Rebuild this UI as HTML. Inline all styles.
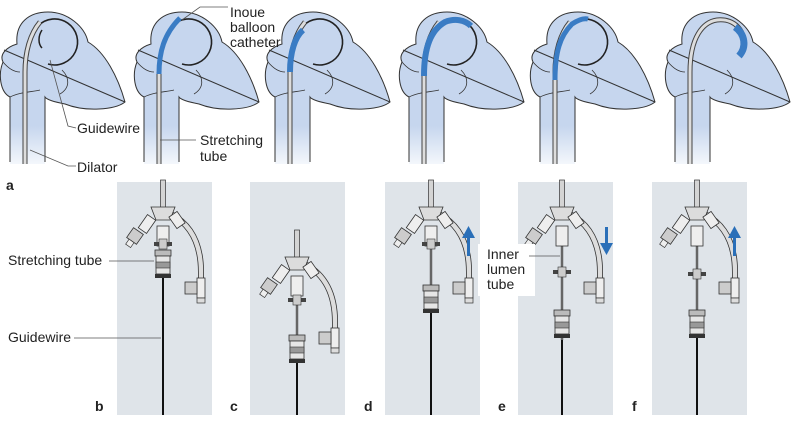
<!DOCTYPE html>
<html><head><meta charset="utf-8"><style>
html,body{margin:0;padding:0;background:#fff}
svg{display:block}
text{font-family:"Liberation Sans",sans-serif;font-size:14px;fill:#222}
</style></head><body>
<svg width="800" height="428" viewBox="0 0 800 428">
<defs>
<linearGradient id="fade" x1="0" y1="0" x2="0" y2="1">
 <stop offset="0.75" stop-color="#c6d6ee"/><stop offset="1" stop-color="#c6d6ee" stop-opacity="0.2"/>
</linearGradient>
<g id="heart">
 <path d="M20,172 L20,105 C10,100 8,82 13,70 C9,62 17,55 27,52 C25,30 40,20 58,20 C78,20 95,35 98,50 C115,60 128,85 135,110 C125,118 95,120 75,112 C65,110 57,108 55,105 L55,172 Z" fill="url(#fade)"/>
 <path d="M20,170 L20,105 C10,100 8,82 13,70 C9,62 17,55 27,52 C25,30 40,20 58,20 C78,20 95,35 98,50 C115,60 128,85 135,110 C125,118 95,120 75,112 C65,110 57,108 55,105 L55,170" fill="none" stroke="#333" stroke-width="1"/>
 <path d="M14,58 L135,110" fill="none" stroke="#333" stroke-width="1"/>
 <path d="M72,78 C80,86 80,96 70,102" fill="none" stroke="#333" stroke-width="0.8"/>
 <path d="M13,70 C18,76 24,80 30,80" fill="none" stroke="#333" stroke-width="0.8"/>
 <path d="M20,105 C30,100 42,100 50,98" fill="none" stroke="#333" stroke-width="0.8"/>
</g>
<path id="arc" d="M48,34 A23,23 0 1 1 58,72" fill="none" stroke="#222" stroke-width="1.6"/>
<g id="tube">
 <path d="M35,172 L35,80 C35,60 40,42 50,30" fill="none" stroke="#444" stroke-width="5"/>
 <path d="M35,172 L35,80 C35,60 40,42 50,30" fill="none" stroke="#ddd" stroke-width="3"/>
</g>
<g id="hub">
 <rect x="-2.5" y="-32" width="5" height="28" fill="#d4d4d4" stroke="#333" stroke-width="0.7"/>
 <path d="M8,2 Q38,18 38,60 L38,68" fill="none" stroke="#333" stroke-width="6"/>
 <path d="M8,2 Q38,18 38,60 L38,68" fill="none" stroke="#ddd" stroke-width="4.4"/>
 <path d="M-12,-5 L12,-5 L7,8 L-7,8 Z" fill="#dcdcdc" stroke="#333" stroke-width="0.8"/>
 <g transform="translate(-16,12) rotate(35)"><rect x="-5" y="-8" width="10" height="16" fill="#eee" stroke="#333" stroke-width="0.8"/></g>
 <g transform="translate(-28,24) rotate(35)"><rect x="-6" y="-6" width="12" height="12" fill="#ccc" stroke="#333" stroke-width="0.8"/><rect x="-3" y="6" width="6" height="6" fill="#eee" stroke="#333" stroke-width="0.7"/></g>
 <g transform="translate(14,8) rotate(-35)"><rect x="-5" y="-7" width="10" height="14" fill="#eee" stroke="#333" stroke-width="0.8"/></g>
 <rect x="-6" y="14" width="12" height="20" fill="#eee" stroke="#333" stroke-width="0.8"/>
 <rect x="34" y="66" width="8" height="20" fill="#eee" stroke="#333" stroke-width="0.8"/>
 <rect x="22" y="70" width="12" height="12" fill="#ccc" stroke="#333" stroke-width="0.8"/>
 <rect x="34" y="86" width="8" height="5" fill="#ddd" stroke="#333" stroke-width="0.7"/>
</g>
<g id="conn">
 <rect x="-8" y="0" width="16" height="6" fill="#bbb" stroke="#333" stroke-width="0.8"/>
 <rect x="-7" y="6" width="14" height="18" fill="#e6e6e6" stroke="#333" stroke-width="0.8"/>
 <rect x="-7" y="12" width="14" height="6" fill="#999" stroke="#333" stroke-width="0.6"/>
 <rect x="-8" y="24" width="16" height="4" fill="#333"/>
</g>
<g id="ring"><rect x="-9" y="-2" width="18" height="4" fill="#444"/><rect x="-4" y="-5" width="8" height="10" fill="#ccc" stroke="#333" stroke-width="0.6"/></g>
</defs>

<!-- top hearts -->
<g transform="translate(-10,-8)"><use href="#heart"/><use href="#arc"/><use href="#tube"/>
 <path d="M52,38 C48,44 48,52 52,56" fill="none" stroke="#222" stroke-width="1.5"/></g>
<g transform="translate(124,-8)"><use href="#heart"/><use href="#arc"/>
 <path d="M35,172 L35,80" fill="none" stroke="#444" stroke-width="5"/><path d="M35,172 L35,80" fill="none" stroke="#ddd" stroke-width="3"/>
 <path d="M35,82 C35,60 40,42 56,26" fill="none" stroke="#3a7cc4" stroke-width="5"/></g>
<g transform="translate(255,-8)"><use href="#heart"/><use href="#arc"/><use href="#tube"/>
 <path d="M35,80 C35,60 40,45 48,38" fill="none" stroke="#3a7cc4" stroke-width="6"/></g>
<g transform="translate(389,-8)"><use href="#heart"/><use href="#arc"/><use href="#tube"/>
 <path d="M35,84 C35,55 42,38 56,30 C66,26 76,28 82,34" fill="none" stroke="#3a7cc4" stroke-width="6"/></g>
<g transform="translate(520,-8)"><use href="#heart"/><use href="#arc"/><use href="#tube"/>
 <path d="M35,88 C35,60 40,44 52,32 C58,28 64,26 68,27" fill="none" stroke="#3a7cc4" stroke-width="5"/></g>
<g transform="translate(655,-8)"><use href="#heart"/>
 <path d="M35,172 L35,80 C35,45 48,30 62,28 C80,26 92,40 88,56" fill="none" stroke="#444" stroke-width="5"/>
 <path d="M35,172 L35,80 C35,45 48,30 62,28 C80,26 92,40 88,56" fill="none" stroke="#ddd" stroke-width="3"/>
 <path d="M80,35 C90,42 92,55 84,64" fill="none" stroke="#3a7cc4" stroke-width="7"/></g>

<!-- leader lines top -->
<g stroke="#555" stroke-width="0.8" fill="none">
 <path d="M50,60 L68,126 L76,128"/>
 <path d="M30,150 L68,166 L76,166"/>
 <path d="M182,20 L200,7 L228,7"/>
 <path d="M160,140 L196,140"/>
</g>
<text x="77" y="133">Guidewire</text>
<text x="77" y="172">Dilator</text>
<text x="230" y="17">Inoue</text>
<text x="230" y="32">balloon</text>
<text x="230" y="47">catheter</text>
<text x="200" y="145">Stretching</text>
<text x="200" y="161">tube</text>
<text x="6" y="190" style="font-weight:bold">a</text>

<!-- bottom panels -->
<rect x="117" y="182" width="95" height="233" fill="#dfe4e9"/>
<rect x="250" y="182" width="95" height="233" fill="#dfe4e9"/>
<rect x="385" y="182" width="95" height="233" fill="#dfe4e9"/>
<rect x="518" y="182" width="95" height="233" fill="#dfe4e9"/>
<rect x="652" y="182" width="95" height="233" fill="#dfe4e9"/>

<!-- b -->
<line x1="163" y1="275" x2="163" y2="415" stroke="#111" stroke-width="2"/>
<use href="#hub" x="163" y="212"/>
<use href="#ring" x="163" y="244"/>
<use href="#conn" x="163" y="250"/>
<!-- c -->
<line x1="297" y1="300" x2="297" y2="415" stroke="#111" stroke-width="2"/>
<line x1="297" y1="295" x2="297" y2="335" stroke="#666" stroke-width="2.5"/>
<use href="#hub" x="297" y="262"/>
<use href="#ring" x="297" y="300"/>
<use href="#conn" x="297" y="335"/>
<!-- d -->
<line x1="431" y1="285" x2="431" y2="415" stroke="#111" stroke-width="2"/>
<line x1="431" y1="240" x2="431" y2="290" stroke="#666" stroke-width="2.5"/>
<use href="#hub" x="431" y="212"/>
<use href="#ring" x="431" y="244"/>
<use href="#conn" x="431" y="285"/>
<!-- e -->
<line x1="562" y1="340" x2="562" y2="415" stroke="#111" stroke-width="2"/>
<line x1="562" y1="240" x2="562" y2="340" stroke="#666" stroke-width="2.5"/>
<use href="#hub" x="562" y="212"/>
<use href="#ring" x="562" y="272"/>
<use href="#conn" x="562" y="310"/>
<!-- f -->
<line x1="697" y1="330" x2="697" y2="415" stroke="#111" stroke-width="2"/>
<line x1="697" y1="240" x2="697" y2="330" stroke="#666" stroke-width="2.5"/>
<use href="#hub" x="697" y="212"/>
<use href="#ring" x="697" y="274"/>
<use href="#conn" x="697" y="310"/>

<!-- arrows -->
<g fill="#2a6fb8">
 <rect x="467" y="236" width="3" height="20"/><path d="M462,238 L475,238 L468.5,226 Z"/>
 <rect x="605" y="227" width="3" height="18"/><path d="M600,243 L613,243 L606.5,255 Z"/>
 <rect x="733" y="236" width="3" height="20"/><path d="M728,238 L741,238 L734.5,226 Z"/>
</g>

<!-- e label box -->
<rect x="478" y="244" width="57" height="52" fill="#fff"/>
<line x1="529" y1="256" x2="560" y2="256" stroke="#555" stroke-width="0.8"/>
<text x="487" y="259">Inner</text>
<text x="487" y="274">lumen</text>
<text x="487" y="289">tube</text>

<!-- b labels -->
<text x="8" y="265">Stretching tube</text>
<line x1="109" y1="261" x2="154" y2="261" stroke="#555" stroke-width="0.8"/>
<text x="8" y="342">Guidewire</text>
<line x1="74" y1="338" x2="161" y2="338" stroke="#555" stroke-width="0.8"/>

<text x="95" y="411" style="font-weight:bold">b</text>
<text x="230" y="411" style="font-weight:bold">c</text>
<text x="364" y="411" style="font-weight:bold">d</text>
<text x="498" y="411" style="font-weight:bold">e</text>
<text x="632" y="411" style="font-weight:bold">f</text>
</svg>
</body></html>
